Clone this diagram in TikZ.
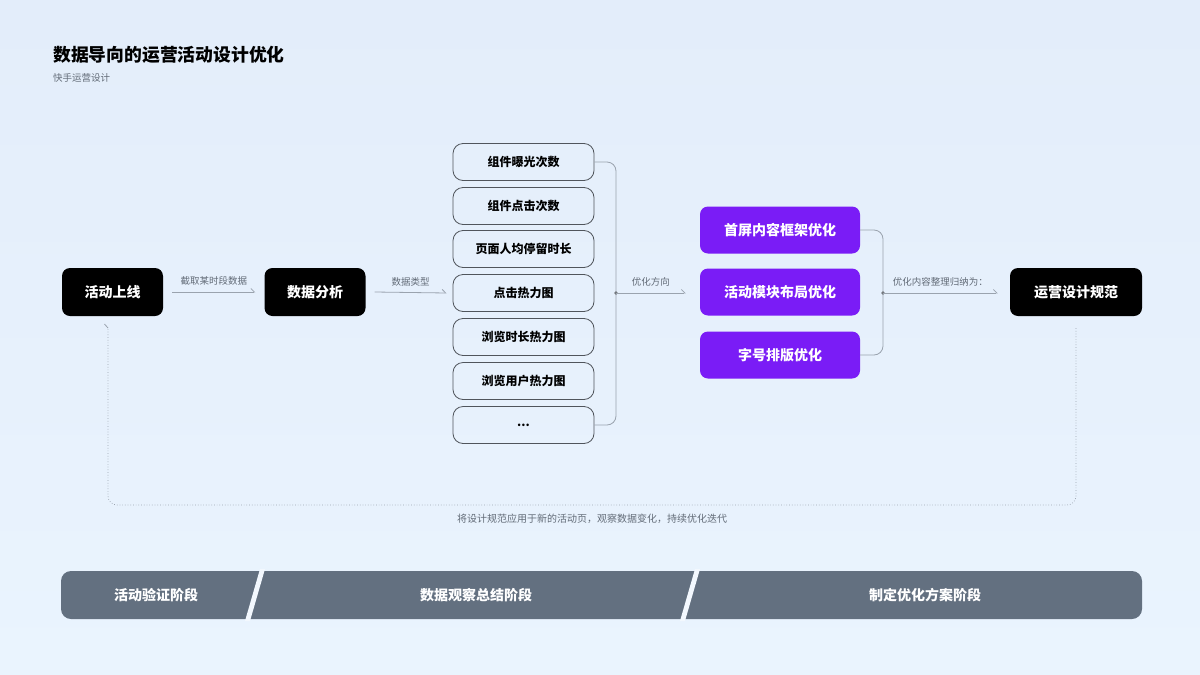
\documentclass[tikz,border=0pt]{standalone}
\usepackage{fontspec}
\setmainfont{Noto Sans CJK SC}
\usetikzlibrary{arrows.meta}
\definecolor{bgtop}{HTML}{E3EDFA}
\definecolor{bgbot}{HTML}{EAF4FE}
\definecolor{linegray}{HTML}{9AA3AE}
\definecolor{labgray}{HTML}{626B77}
\definecolor{boxline}{HTML}{50555C}
\definecolor{purp}{HTML}{7A1CF6}
\definecolor{barcol}{HTML}{637080}
\tikzset{
  blackbox/.style={fill=black, text=white, rounded corners=8pt, minimum width=101pt, minimum height=48pt, font=\fontsize{14}{16}\selectfont\bfseries, inner sep=0pt},
  listbox/.style={draw=boxline, line width=0.8pt, rounded corners=10pt, minimum width=141pt, minimum height=37pt, font=\fontsize{12}{14}\selectfont\bfseries, inner sep=0pt},
  purpbox/.style={fill=purp, text=white, rounded corners=8pt, minimum width=160pt, minimum height=47pt, font=\fontsize{14}{16}\selectfont\bfseries, inner sep=0pt},
  arr/.style={draw=linegray, line width=0.8pt, -{Straight Barb[harpoon, length=3.5pt, width=7pt, line width=0.8pt]}},
  bracket/.style={draw=linegray, line width=0.8pt, rounded corners=9pt},
  lab/.style={text=labgray, font=\fontsize{9.5}{11}\selectfont, inner sep=0pt},
  loopline/.style={draw=linegray, line width=0.7pt, dotted, rounded corners=9pt},
  phase/.style={text=white, font=\fontsize{14}{16}\selectfont\bfseries, inner sep=0pt},
}
\begin{document}
\begin{tikzpicture}[x=1pt,y=-1pt]
\useasboundingbox (0,0) rectangle (1200,675);
\shade[top color=bgtop, bottom color=bgbot] (0,0) rectangle (1200,675);

% title
\node[anchor=west, inner sep=0pt, font=\fontsize{17.8}{20}\selectfont\bfseries] (title) at (53,55) {数据导向的运营活动设计优化};
\node[anchor=west, inner sep=0pt, text=labgray, font=\fontsize{9.5}{11}\selectfont] (sub) at (53,78) {快手运营设计};

% main nodes
\node[blackbox] (a) at (112.5,292) {活动上线};
\node[blackbox] (b) at (315,292) {数据分析};
\node[blackbox, minimum width=132pt] (spec) at (1076,292) {运营设计规范};

% list
\node[listbox] (l1) at (523.5,162) {组件曝光次数};
\node[listbox] (l2) at (523.5,206) {组件点击次数};
\node[listbox] (l3) at (523.5,249) {页面人均停留时长};
\node[listbox] (l4) at (523.5,293) {点击热力图};
\node[listbox] (l5) at (523.5,337) {浏览时长热力图};
\node[listbox] (l6) at (523.5,381) {浏览用户热力图};
\node[listbox] (l7) at (523.5,425) {...};

% purple
\node[purpbox] (p1) at (780,230) {首屏内容框架优化};
\node[purpbox] (p2) at (780,292) {活动模块布局优化};
\node[purpbox] (p3) at (780,355) {字号排版优化};

% arrows a->b, b->list
\draw[arr] ([xshift=9pt]a.east) -- node[lab, above=6pt] (la) {截取某时段数据} ([xshift=-9pt]b.west);
\draw[arr] ([xshift=9pt]b.east) -- node[lab, above=6pt] (lb) {数据类型} ([xshift=-6pt]l4.west);

% left bracket
\coordinate (bx) at (616,293);
\draw[bracket] (l1.east) -| (bx) |- (l7.east);
\fill[boxline!80] (bx) circle (1.8pt);
\draw[arr] (bx) -- node[lab, above=6pt] (lc) {优化方向} ([xshift=-14pt]p2.west |- bx);

% right bracket
\coordinate (bx2) at (883,293);
\draw[bracket] (p1.east) -| (bx2) |- (p3.east);
\fill[boxline!80] (bx2) circle (1.8pt);
\draw[arr] (bx2) -- node[lab, above=6pt] (ld) {优化内容整理归纳为：} ([xshift=-12pt]spec.west |- bx2);

% loop back
\coordinate (lr) at (1076,505);
\coordinate (lbl) at (108,505);
\coordinate (lend) at (108,328);
\draw[loopline] ([yshift=-12pt]spec.south) -- (lr) -- (lbl) -- (lend);
\draw[draw=linegray, line width=0.8pt] ([xshift=-3.5pt,yshift=4pt]lend) -- (lend);
\node[lab, font=\fontsize{10}{12}\selectfont] (lloop) at (592,519) {将设计规范应用于新的活动页，观察数据变化，持续优化迭代};

% phase bar
\fill[barcol, rounded corners=10pt] (61,571) rectangle (1142,619);
\fill[bgbot!60!white] (260,569) -- (265,569) -- (250,621) -- (245,621) -- cycle;
\fill[bgbot!60!white] (695,569) -- (700,569) -- (685,621) -- (680,621) -- cycle;
\node[phase] (ph1) at (156,595) {活动验证阶段};
\node[phase] (ph2) at (476,595) {数据观察总结阶段};
\node[phase] (ph3) at (925,595) {制定优化方案阶段};
\end{tikzpicture}
\end{document}
